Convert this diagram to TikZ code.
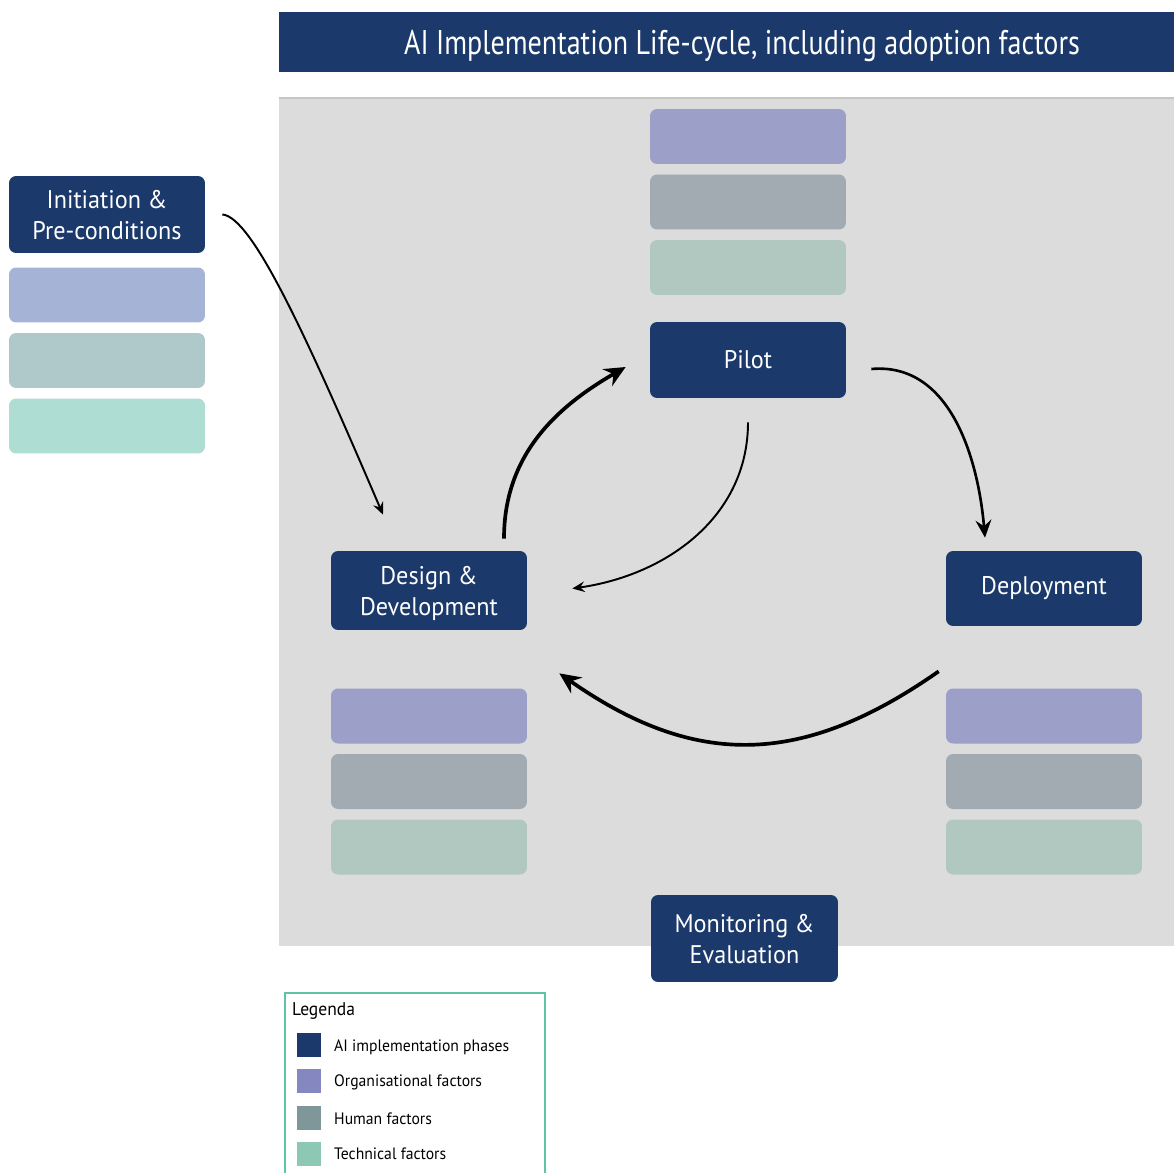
\documentclass[tikz,border=0pt]{standalone}
\usepackage{fontspec}
\setmainfont{PT Sans}[FakeStretch=0.95]
\newfontfamily\titlefont{PT Sans}[FakeStretch=0.82]
\usetikzlibrary{arrows.meta}

\definecolor{phaseblue}{HTML}{1B3A6B}
\definecolor{panelgray}{HTML}{DCDCDC}
\definecolor{orgfill}{HTML}{9C9FC8}
\definecolor{humfill}{HTML}{A2ABB1}
\definecolor{tecfill}{HTML}{B0C8C0}
\definecolor{initorg}{HTML}{A5B3D6}
\definecolor{inithum}{HTML}{AFC8CA}
\definecolor{inittec}{HTML}{AEDED3}
\definecolor{keyorg}{HTML}{8487C0}
\definecolor{keyhum}{HTML}{7F9799}
\definecolor{keytec}{HTML}{8DC8B5}
\definecolor{keyframe}{HTML}{5EC4A8}

% three factor boxes: prefix, x, y of the first centre, three fills
\newcommand\factorstack[6]{
        \node [factor, fill=#4, name=#1org] at (#2,-#3) {};
        \node [factor, fill=#5, name=#1hum] at (#2,-#3-65.5) {};
        \node [factor, fill=#6, name=#1tec] at (#2,-#3-131) {};
}

\begin{document}
\begin{tikzpicture}[x=0.02cm, y=0.02cm,
        phase/.style={fill=phaseblue, text=white, rounded corners=4pt, align=center,
          minimum width=3.92cm, inner sep=0pt, font=\fontsize{14.5}{17.6}\selectfont},
        two lines/.style={text depth=-2.5pt},
        factor/.style={rounded corners=4pt, minimum width=3.92cm, minimum height=1.1cm, inner sep=0pt},
        swatch/.style={minimum size=0.48cm, inner sep=0pt},
        keytext/.style={anchor=west, font=\fontsize{9.4}{11}\selectfont},
        flow thin/.style={line width=1.1pt, -{Stealth[length=7pt, width=6pt, inset=2.5pt]}},
        flow mid/.style={line width=1.5pt, -{Stealth[length=10pt, width=9pt, inset=3.5pt]}},
        flow thick/.style={line width=2.1pt, -{Stealth[length=12pt, width=11pt, inset=4pt]}}
        ]
        \useasboundingbox (0,0) rectangle (1174,-1173);
        % title bar and panel
        \fill [phaseblue] (279,-12) rectangle (1174,-72);
        \node [name=title, text=white, font=\titlefont\fontsize{19.5}{22}\selectfont] at (742,-46)
          {AI Implementation Life-cycle, including adoption factors};
        \fill [panelgray] (279,-98) rectangle (1174,-946);
        \draw [gray!45, line width=0.6pt] (279,-98) -- (1174,-98);
        % phases
        \node [phase, two lines, name=init, minimum height=1.54cm] at (107,-214.5) {Initiation \&\\Pre-conditions};
        \node [phase, name=pilot, minimum height=1.52cm] at (748,-360) {Pilot};
        \node [phase, two lines, name=design, minimum height=1.58cm] at (429,-590.5) {Design \&\\Development};
        \node [phase, name=deploy, minimum height=1.5cm] at (1044,-588.5) {Deployment};
        \node [phase, two lines, name=monitor, minimum width=3.74cm, minimum height=1.74cm] at (744.5,-938.5)
          {Monitoring \&\\Evaluation};
        % factors
        \factorstack{init}{107}{295}{initorg}{inithum}{inittec}
        \factorstack{pilot}{748}{136.5}{orgfill}{humfill}{tecfill}
        \factorstack{design}{429}{716}{orgfill}{humfill}{tecfill}
        \factorstack{deploy}{1044}{716}{orgfill}{humfill}{tecfill}
        % flows
        \draw [flow thin] ([shift={(17,0)}]init.east) .. controls +(30,-2) and +(-75,175) .. ([shift={(-46,36)}]design.north);
        \draw [flow thick] ([shift={(75,12)}]design.north) to[out=90, in=-150] ([shift={(-24,-7)}]pilot.west);
        \draw [flow thin] ([shift={(0,-24)}]pilot.south) to[out=-90, in=8] ([shift={(45,2)}]design.east);
        \draw [flow mid] ([shift={(25,-9)}]pilot.east) to[out=5, in=95] ([shift={(-59,13)}]deploy.north);
        \draw [flow thick] ([shift={(-7,-45)}]deploy.south west) to[out=-145, in=-35, looseness=1.12] ([shift={(32,-43)}]design.south east);
        % legend
        \draw [keyframe, line width=0.8pt] (285,-1180) -- (285,-993) -- (545,-993) -- (545,-1180);
        \node [name=keytitle, keytext, font=\fontsize{10.5}{12}\selectfont] at (286,-1011) {Legenda};
        \node [swatch, fill=phaseblue, name=keyphase] at (309,-1045) {};
        \node [swatch, fill=keyorg, name=keyorgbox] at (309,-1080.5) {};
        \node [swatch, fill=keyhum, name=keyhumbox] at (309,-1117.5) {};
        \node [swatch, fill=keytec, name=keytecbox] at (309,-1153.5) {};
        \node [keytext] at (328,-1047) {AI implementation phases};
        \node [keytext] at (328,-1082.5) {Organisational factors};
        \node [keytext] at (328,-1119) {Human factors};
        \node [keytext] at (328,-1154) {Technical factors};
\end{tikzpicture}
\end{document}
